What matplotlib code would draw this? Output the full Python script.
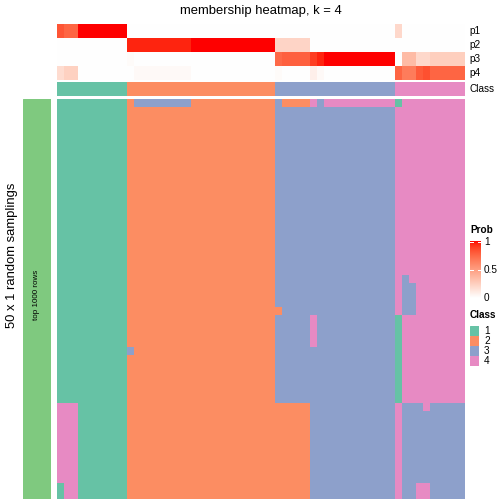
import numpy as np
import matplotlib
matplotlib.use("Agg")
import matplotlib.pyplot as plt
from matplotlib.colors import to_rgb
from matplotlib.patches import Rectangle

plt.rcParams['font.family'] = ['Liberation Sans', 'DejaVu Sans']

# class colours (Set2) and the left bar colour
class_colors = {1: '#66C2A5', 2: '#FC8D62', 3: '#8DA0CB', 4: '#E78AC3'}
bar_color = '#7FC97F'

# membership probabilities per column (value, run length), 58 columns
p1_runs = [(0.82, 1), (0.76, 2), (1.0, 7), (0.0, 38), (0.2, 1), (0.0, 9)]
p2_runs = [(0.0, 10), (0.96, 9), (1.0, 12), (0.22, 5), (0.0, 22)]
p3_runs = [(0.0, 10), (0.02, 1), (0.0, 20), (0.74, 1), (0.78, 4), (0.9, 1),
           (0.96, 1), (1.0, 10), (0.0, 1), (0.35, 2), (0.2, 2), (0.25, 5)]
p4_runs = [(0.18, 1), (0.24, 2), (0.0, 8), (0.03, 8), (0.0, 12), (0.02, 1),
           (0.0, 4), (0.08, 1), (0.03, 1), (0.0, 10), (0.76, 1), (0.66, 2),
           (0.8, 1), (0.84, 1), (0.76, 5)]
prob_names = ['p1', 'p2', 'p3', 'p4']

# consensus class per column
class_runs = [(1, 10), (2, 21), (3, 17), (4, 10)]

# class per sampling (row) and column, as (class, run length)
r_base = [(1, 10), (2, 21), (3, 17), (4, 10)]
r0 = [(1, 10), (2, 1), (3, 8), (2, 12), (3, 1), (2, 4), (4, 1), (3, 1), (4, 10), (1, 1), (4, 9)]
r22 = [(1, 10), (2, 21), (3, 17), (4, 1), (3, 1), (4, 8)]
r23 = [(1, 10), (2, 21), (3, 17), (4, 1), (3, 2), (4, 7)]
r26 = [(1, 10), (2, 22), (3, 16), (4, 1), (3, 2), (4, 7)]
r27 = [(1, 10), (2, 21), (3, 5), (4, 1), (3, 11), (1, 1), (4, 9)]
r31 = [(1, 10), (3, 1), (2, 20), (3, 17), (1, 1), (4, 9)]
r32 = [(1, 10), (2, 21), (3, 17), (1, 1), (4, 9)]
r38 = [(4, 3), (1, 7), (2, 26), (3, 12), (4, 1), (3, 3), (4, 1), (3, 5)]
r39 = [(4, 3), (1, 7), (2, 26), (3, 12), (4, 1), (3, 9)]
r48 = [(1, 1), (4, 2), (1, 7), (2, 26), (3, 12), (4, 1), (3, 2), (4, 2), (3, 5)]
sampling_rows = ([r0] + [r_base] * 21 + [r22] + [r23] * 3 + [r26] + [r27] * 4
                 + [r31] + [r32] * 6 + [r38] + [r39] * 9 + [r48] * 2)


def expand(runs):
    out = []
    for v, n in runs:
        out += [v] * n
    return out


def white_red(t):
    # white -> red interpolated in LAB space
    t = np.asarray(t, dtype=float)
    L = 100 + (53.24 - 100) * t
    a = 80.09 * t
    b = 67.20 * t
    fy = (L + 16) / 116
    fx = fy + a / 500
    fz = fy - b / 200

    def finv(f):
        return np.where(f ** 3 > 0.008856, f ** 3, (f - 16 / 116) / 7.787)

    X = 0.95047 * finv(fx)
    Y = finv(fy)
    Z = 1.08883 * finv(fz)
    R = 3.2406 * X - 1.5372 * Y - 0.4986 * Z
    G = -0.9689 * X + 1.8758 * Y + 0.0415 * Z
    B = 0.0557 * X - 0.2040 * Y + 1.0570 * Z
    rgb = np.clip(np.stack([R, G, B], axis=-1), 0, 1)
    rgb = np.where(rgb > 0.0031308, 1.055 * rgb ** (1 / 2.4) - 0.055, 12.92 * rgb)
    return np.clip(rgb, 0, 1)


W = H = 504
fig = plt.figure(figsize=(7, 7), dpi=72)


def px_axes(x0, y0, x1, y1):
    ax = fig.add_axes([x0 / W, 1 - y1 / H, (x1 - x0) / W, (y1 - y0) / H])
    ax.set_axis_off()
    return ax


def class_img(rows):
    return np.array([[to_rgb(class_colors[c]) for c in r] for r in rows])


# probability rows
probs = np.array([expand(p1_runs), expand(p2_runs), expand(p3_runs), expand(p4_runs)])
ax_p = px_axes(57, 24, 465, 80)
ax_p.imshow(white_red(probs), aspect='auto', interpolation='nearest')

# class annotation
ax_c = px_axes(57, 82, 465, 96)
ax_c.imshow(class_img([expand(class_runs)]), aspect='auto', interpolation='nearest')

# main body
ax_m = px_axes(57, 99, 465, 499)
ax_m.imshow(class_img([expand(r) for r in sampling_rows]), aspect='auto', interpolation='nearest')

# left bar
ax_b = px_axes(23, 99, 51, 499)
ax_b.add_patch(Rectangle((0, 0), 1, 1, color=bar_color, transform=ax_b.transAxes))
ax_b.text(0.5, 0.51, 'top 1000 rows', rotation=90, ha='center', va='center',
          fontsize=8, transform=ax_b.transAxes)

# titles
fig.text(261 / W, 1 - 11 / H, 'membership heatmap, k = 4', ha='center', va='center', fontsize=13)
fig.text(12 / W, 1 - 255 / H, '50 x 1 random samplings', rotation=90,
         ha='center', va='center', fontsize=13)

# annotation names
for i, name in enumerate(prob_names + ['Class']):
    y = 31 + 14 * i if i < 4 else 89
    fig.text(469 / W, 1 - y / H, name, ha='left', va='center', fontsize=10)

# Prob legend
fig.text(470 / W, 1 - 230 / H, 'Prob', ha='left', va='center', fontsize=10, fontweight='bold')
ax_l = px_axes(470, 240, 481, 300)
grad = white_red(np.linspace(0, 1, 100))[:, None, :]
ax_l.imshow(grad, aspect='auto', origin='lower', extent=[0, 1, 0, 1])
ax_l.set_xlim(0, 1)
ax_l.set_ylim(-0.035, 1.035)
for v, lab in [(1, '1'), (0.5, '0.5'), (0, '0')]:
    ax_l.plot([0, 0.25], [v, v], color='white', lw=1)
    ax_l.plot([0.75, 1], [v, v], color='white', lw=1)
    fig.text(484 / W, 1 - (298 - 56 * v) / H, lab, ha='left', va='center', fontsize=10)

# Class legend
fig.text(470 / W, 1 - 315 / H, 'Class', ha='left', va='center', fontsize=10, fontweight='bold')
for i, c in enumerate([1, 2, 3, 4]):
    y0 = 326 + 10 * i
    ax_k = px_axes(470, y0, 479, y0 + 9.5)
    ax_k.add_patch(Rectangle((0, 0), 1, 1, color=class_colors[c], transform=ax_k.transAxes))
    fig.text(484 / W, 1 - (y0 + 5) / H, str(c), ha='left', va='center', fontsize=10)

fig.savefig('out.png', dpi=72)
